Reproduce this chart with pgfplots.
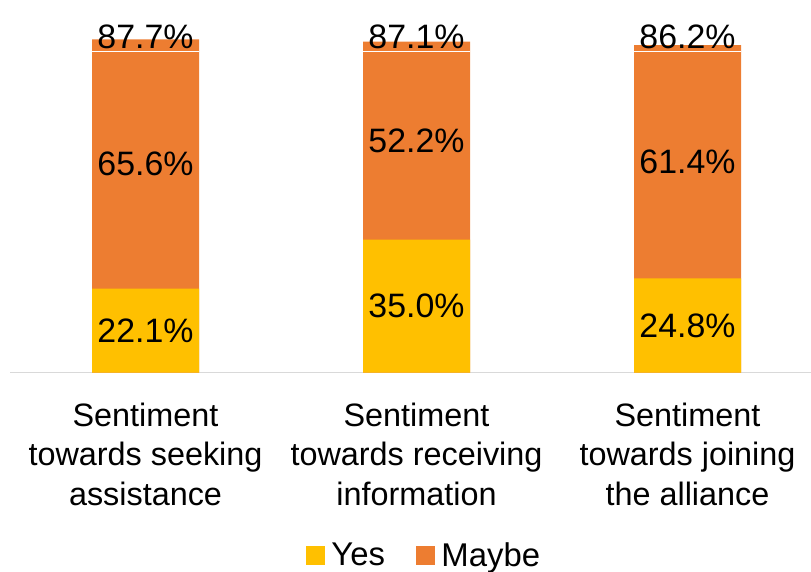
\documentclass[border=0pt]{standalone}
\usepackage{pgfplots}
\pgfplotsset{compat=1.18}
\usepackage{fontspec}
\setmainfont{Liberation Sans}
\definecolor{yesc}{HTML}{FFC000}
\definecolor{maybec}{HTML}{ED7D31}
\definecolor{axisgray}{HTML}{D9D9D9}
\newcommand\labfont{\fontsize{34}{40}\selectfont}
\newcommand\tickfont{\fontsize{32.5}{39.5}\selectfont}
\begin{document}
\begin{tikzpicture}
\begin{axis}[
  x=271bp, y=3.8bp,
  xmin=-0.5, xmax=2.46, ymin=0, ymax=100,
  clip=false,
  ybar, bar width=107bp, bar shift=0pt,
  axis y line=none,
  axis x line*=bottom,
  x axis line style={draw=axisgray, line width=1.5bp},
  xtick={0,1,2},
  xtick style={draw=none},
  major tick length=0pt,
  xticklabels={{Sentiment\\towards seeking\\assistance},{Sentiment\\towards receiving\\information},{Sentiment\\towards joining\\the alliance}},
  xticklabel style={align=center, font=\tickfont, inner sep=0pt, anchor=north, yshift=-30bp},
  legend style={at={(axis cs:1.037,-48)}, anchor=center, draw=none, fill=none, legend columns=2,
    font=\fontsize{33}{40}\selectfont, inner sep=0pt,
    nodes={inner ysep=4bp, inner xsep=7bp},
    /tikz/every even column/.append style={column sep=24bp}},
]
% total labels (drawn first, partly covered by the bar top)
\addplot[draw=none, fill=none, forget plot, nodes near coords, point meta=explicit symbolic,
  every node near coord/.append style={anchor=base, font=\labfont, inner sep=0pt}]
  coordinates {(0,85.4)[87.7\%] (1,85.4)[87.1\%] (2,85.4)[86.2\%]};
% Maybe (cumulative top)
\addplot[fill=maybec, draw=none, forget plot] coordinates {(0,87.7) (1,87.1) (2,86.2)};
% Yes
\addplot[fill=yesc, draw=none, forget plot] coordinates {(0,22.1) (1,35.0) (2,24.8)};
% white separator
\addplot[sharp plot, white, line width=1.5bp, unbounded coords=jump, forget plot]
  coordinates {(-0.197,84.5) (0.197,84.5) (0.5,nan) (0.803,84.5) (1.197,84.5) (1.5,nan) (1.803,84.5) (2.197,84.5)};
% segment labels
\addplot[draw=none, fill=none, forget plot, nodes near coords, point meta=explicit symbolic,
  every node near coord/.append style={anchor=center, font=\labfont, inner sep=0pt}]
  coordinates {(0,11.05)[22.1\%] (1,17.5)[35.0\%] (2,12.4)[24.8\%]
               (0,54.9)[65.6\%] (1,61.05)[52.2\%] (2,55.5)[61.4\%]};
\addlegendimage{legend image code/.code={\fill[yesc] (0bp,-9bp) rectangle (18bp,9bp);}}
\addlegendentry{Yes}
\addlegendimage{legend image code/.code={\fill[maybec] (0bp,-9bp) rectangle (18bp,9bp);}}
\addlegendentry{Maybe}
\end{axis}
\pgfresetboundingbox
\path[use as bounding box] (-10bp,-199.3bp) rectangle (801bp,372.7bp);
\end{tikzpicture}
\end{document}
